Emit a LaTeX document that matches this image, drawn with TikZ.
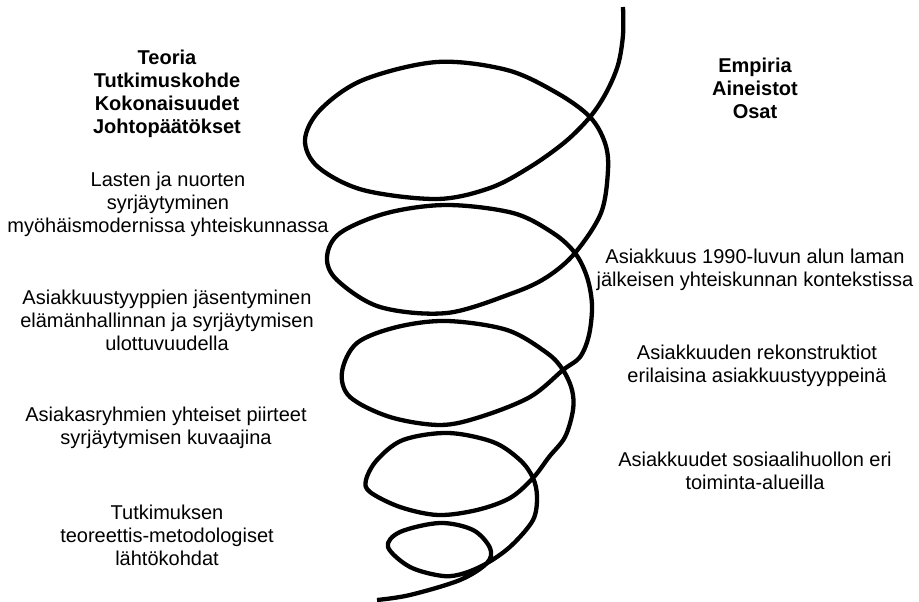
\documentclass[tikz,border=0pt]{standalone}
\usepackage{fontspec}
\setmainfont{Liberation Sans}
\usepackage{tikz}
\usetikzlibrary{positioning}

\begin{document}
\begin{tikzpicture}[x=1bp, y=-1bp]
        % Tyylit: tekstit ja spiraali
        \tikzstyle{teksti} = [
            align=center,
            inner sep=0pt,
            font=\fontsize{20bp}{23bp}\selectfont
        ]
        \tikzstyle{otsikko} = [teksti, font=\fontsize{20bp}{23bp}\selectfont\bfseries]
        \tikzstyle{spiraali} = [line width=4.3bp, line join=round, smooth, tension=0.55]

        % Kuvan rajat
        \useasboundingbox (0,0) rectangle (919,602);

        % Otsikot
        \node[otsikko] (teoria) at (167,94) {Teoria\\Tutkimuskohde\\Kokonaisuudet\\Johtopäätökset};
        \node[otsikko] (empiria) at (755,88) {Empiria\\Aineistot\\Osat};

        % Vasen puoli (ylhäältä alas)
        \node[teksti] (lasten) at (168,204) {Lasten ja nuorten\\syrjäytyminen\\myöhäismodernissa yhteiskunnassa};
        \node[teksti] (tyypit) at (167,320) {Asiakkuustyyppien jäsentyminen\\elämänhallinnan ja syrjäytymisen\\ulottuvuudella};
        \node[teksti] (ryhmat) at (166,428) {Asiakasryhmien yhteiset piirteet\\syrjäytymisen kuvaajina};
        \node[teksti] (lahto) at (167,535) {Tutkimuksen\\teoreettis-metodologiset\\lähtökohdat};

        % Oikea puoli
        \node[teksti] (lama) at (755,270) {Asiakkuus 1990-luvun alun laman\\jälkeisen yhteiskunnan kontekstissa};
        \node[teksti] (rekon) at (757,366) {Asiakkuuden rekonstruktiot\\erilaisina asiakkuustyyppeinä};
        \node[teksti] (alueet) at (755,471) {Asiakkuudet sosiaalihuollon eri\\toiminta-alueilla};

        % Spiraali ylhäältä alas
        \draw[spiraali] plot coordinates {
            (623,7) (623,35) (618,65) (606,93) (590,117) (565,142) (530,167) (490,188)
            (437,199) (363,190) (318,167) (305,140) (320,110) (363,80) (437,62) (507,70)
            (557,93) (590,117) (605,143) (608,170) (601,213) (575,253) (547,277) (513,293)
            (447,313) (380,307) (337,280) (327,257) (340,233) (387,213) (447,205) (513,213)
            (553,233) (575,253) (587,277) (592,305) (589,335) (580,357) (563,370) (530,397)
            (480,417) (440,425) (390,417) (350,397) (342,372) (357,343) (397,327) (447,321)
            (507,330) (547,353) (563,370) (572,390) (573,410) (565,437) (549,457) (533,478)
            (510,498) (477,510) (438,515) (400,507) (370,492) (366,480) (377,460) (403,440)
            (448,433) (493,442) (520,460) (533,478) (537,497) (533,520) (512,545) (489,562)
            (465,573) (443,576) (410,567) (388,547) (400,532) (440,523) (473,530) (490,548)
            (487,563) (460,580) (410,595) (377,600)
        };

\end{tikzpicture}
\end{document}
